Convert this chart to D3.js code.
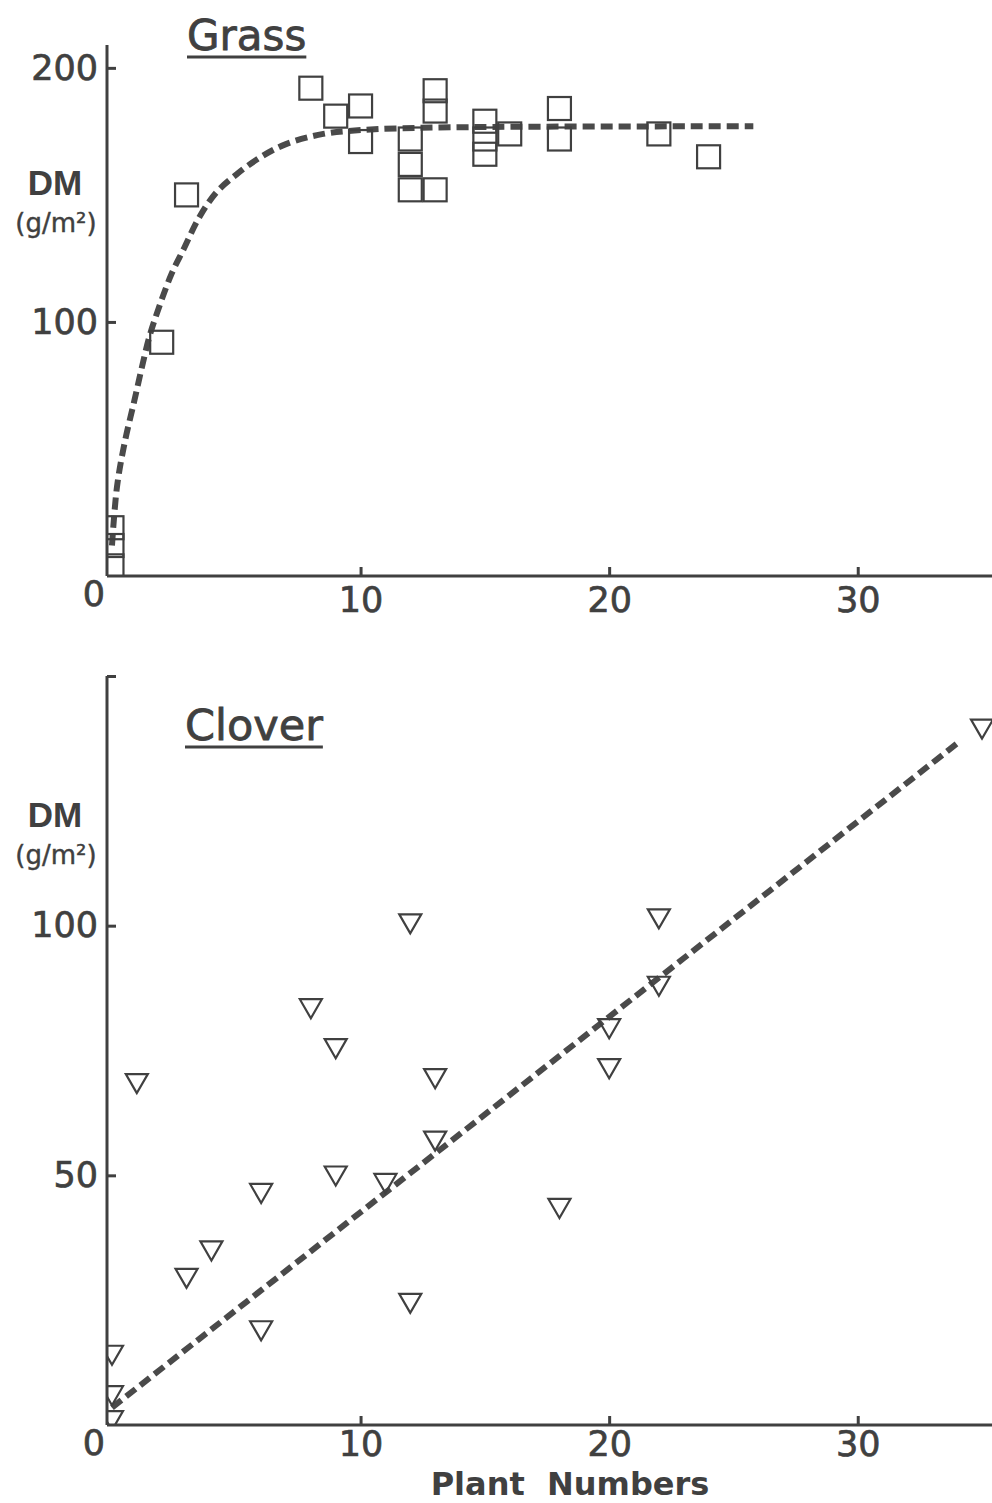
<!DOCTYPE html>
<html>
<head>
<meta charset="utf-8">
<script src="https://cdn.jsdelivr.net/npm/d3@7"></script>
<style>
  body { margin: 0; background: #fff; }
</style>
</head>
<body>
<div id="chart"></div>
<script>
// x axis (plant numbers) ticks, shared by both panels
const xTicks = [10, 20, 30];

// Grass panel
const grassYTicks = [0, 100, 200];
const grassX = [0, 0, 0, 2, 3, 8, 9, 10, 10, 12, 12, 12, 13, 13, 13, 15, 15, 15, 16, 18, 18, 22, 24];
const grassY = [4, 12, 19, 92, 150, 192, 181, 185, 171, 172, 162, 152, 152, 191, 183, 179, 172, 166, 174, 184, 172, 174, 165];
// fitted curve
const grassCurveX = [0, 0.2, 0.5, 0.9, 1.2, 1.5, 1.9, 2.4, 2.9, 3.5, 4.2, 5, 6, 7, 8.5, 10, 13, 25.8];
const grassCurveY = [12, 35, 52, 69, 82, 94, 106, 119, 129, 141, 151, 158, 165, 170, 174, 175.5, 176.5, 177];

// Clover panel
const cloverYTicks = [0, 50, 100, 150];
const cloverYLabels = ["0", "50", "100", ""];
const cloverX = [0, 0, 0, 1, 3, 4, 6, 6, 8, 9, 9, 11, 12, 12, 13, 13, 18, 20, 20, 22, 22, 35];
const cloverY = [1.5, 6.5, 14.6, 69, 30, 35.5, 47, 19.5, 84, 76, 50.5, 49, 101, 25, 70, 57.5, 44, 80, 72, 102, 88.5, 140];
const cloverLineX = [0, 34];
const cloverLineY = [3.5, 136.5];

const width = 992;
const height = 1503;
const ink = "#404040";

const svg = d3.select("#chart")
  .append("svg")
  .attr("width", width)
  .attr("height", height)
  .style("background", "#fff");

function drawPanel(p) {
  const xScale = d3.scaleLinear().domain([-0.2, 35.2]).range([107, 987]);
  const yScale = d3.scaleLinear().domain(p.yDomain).range(p.yRange);

  const g = svg.append("g");

  g.append("clipPath")
    .attr("id", p.id + "-clip")
    .append("rect")
    .attr("x", 107)
    .attr("y", p.yRange[1] - 40)
    .attr("width", width - 107)
    .attr("height", p.yRange[0] - p.yRange[1] + 40);

  // axes, ticks pointing inward
  const yAxis = d3.axisLeft(yScale)
    .tickValues(p.yTicks)
    .tickSizeInner(-9)
    .tickSizeOuter(0)
    .tickPadding(9)
    .tickFormat((d, i) => p.yLabels[i]);

  const yg = g.append("g")
    .attr("transform", `translate(107,0)`)
    .call(yAxis);
  yg.select(".domain").attr("d", `M0,${p.yRange[0]}V${p.yRange[1]}`);

  const xAxis = d3.axisBottom(xScale)
    .tickValues(xTicks)
    .tickSizeInner(-9)
    .tickSizeOuter(0)
    .tickPadding(p.xPad);

  const xg = g.append("g")
    .attr("transform", `translate(0,${p.yRange[0]})`)
    .call(xAxis);
  xg.select(".domain").attr("d", `M107,0H${width}`);

  g.selectAll(".domain, .tick line")
    .attr("stroke", ink)
    .attr("stroke-width", 3);
  g.selectAll(".tick text")
    .attr("fill", ink)
    .attr("stroke", ink)
    .attr("stroke-width", 0.7)
    .style("font-family", "DejaVu Sans")
    .style("font-size", "35px");
  // origin label sits below-left of the corner
  yg.selectAll(".tick")
    .filter((d) => d === 0)
    .select("text")
    .attr("x", -2)
    .attr("dy", "0.85em");
  yg.selectAll(".tick")
    .filter((d) => d === 0)
    .select("line")
    .remove();

  const plot = g.append("g").attr("clip-path", `url(#${p.id}-clip)`);

  // fitted line
  const line = d3.line()
    .x((d) => xScale(d[0]))
    .y((d) => yScale(d[1]))
    .curve(d3.curveCatmullRom.alpha(0.5));

  plot.append("path")
    .datum(d3.zip(p.lineX, p.lineY))
    .attr("d", line)
    .attr("fill", "none")
    .attr("stroke", "#4a4a4a")
    .attr("stroke-width", 6)
    .attr("stroke-dasharray", "12,6");

  // markers
  const pts = d3.zip(p.x, p.y);
  if (p.marker === "square") {
    plot.selectAll("rect.pt")
      .data(pts)
      .join("rect")
      .attr("class", "pt")
      .attr("x", (d) => xScale(d[0]) - 11.5)
      .attr("y", (d) => yScale(d[1]) - 11.5)
      .attr("width", 23)
      .attr("height", 23)
      .attr("fill", "none")
      .attr("stroke", ink)
      .attr("stroke-width", 2.2);
  } else {
    const tri = d3.symbol(d3.symbolTriangle, 210);
    plot.selectAll("path.pt")
      .data(pts)
      .join("path")
      .attr("class", "pt")
      .attr("d", tri)
      .attr("transform", (d) => `translate(${xScale(d[0])},${yScale(d[1])}) rotate(180)`)
      .attr("fill", "none")
      .attr("stroke", ink)
      .attr("stroke-width", 2.2);
  }

  // title, underlined
  const title = g.append("text")
    .attr("x", p.titleX)
    .attr("y", p.titleY)
    .attr("fill", ink)
    .attr("stroke", ink)
    .attr("stroke-width", 0.8)
    .style("font-family", "DejaVu Sans")
    .style("font-size", p.titleSize + "px")
    .text(p.title);
  const tw = title.node().getComputedTextLength();
  g.append("line")
    .attr("x1", p.titleX)
    .attr("x2", p.titleX + tw)
    .attr("y1", p.titleY + 7)
    .attr("y2", p.titleY + 7)
    .attr("stroke", ink)
    .attr("stroke-width", 3);

  // y label
  g.append("text")
    .attr("x", 55)
    .attr("y", p.dmY)
    .attr("text-anchor", "middle")
    .attr("fill", ink)
    .style("font-family", "Liberation Sans")
    .style("font-weight", "bold")
    .style("font-size", "35px")
    .text("DM");
  g.append("text")
    .attr("x", 56)
    .attr("y", p.dmY + 37)
    .attr("text-anchor", "middle")
    .attr("fill", ink)
    .attr("stroke", ink)
    .attr("stroke-width", 0.4)
    .style("font-family", "DejaVu Sans")
    .style("font-size", "26px")
    .text("(g/m²)");
}

drawPanel({
  id: "grass",
  yDomain: [0, 209],
  yRange: [576, 45],
  yTicks: grassYTicks,
  yLabels: grassYTicks.map(String),
  x: grassX,
  y: grassY,
  lineX: grassCurveX,
  lineY: grassCurveY,
  marker: "square",
  xPad: 11,
  title: "Grass",
  titleX: 187,
  titleY: 50,
  titleSize: 42,
  dmY: 195
});

drawPanel({
  id: "clover",
  yDomain: [0, 150],
  yRange: [1425, 676],
  yTicks: cloverYTicks,
  yLabels: cloverYLabels,
  x: cloverX,
  y: cloverY,
  lineX: cloverLineX,
  lineY: cloverLineY,
  marker: "triangle",
  xPad: 6,
  title: "Clover",
  titleX: 185,
  titleY: 740,
  titleSize: 43,
  dmY: 827
});

svg.append("text")
  .attr("x", 570)
  .attr("y", 1495)
  .attr("text-anchor", "middle")
  .attr("fill", ink)
  .style("font-family", "DejaVu Sans")
  .style("font-weight", "bold")
  .style("font-size", "32px")
  .attr("xml:space", "preserve")
  .style("white-space", "pre")
  .text("Plant  Numbers");
</script>
</body>
</html>
